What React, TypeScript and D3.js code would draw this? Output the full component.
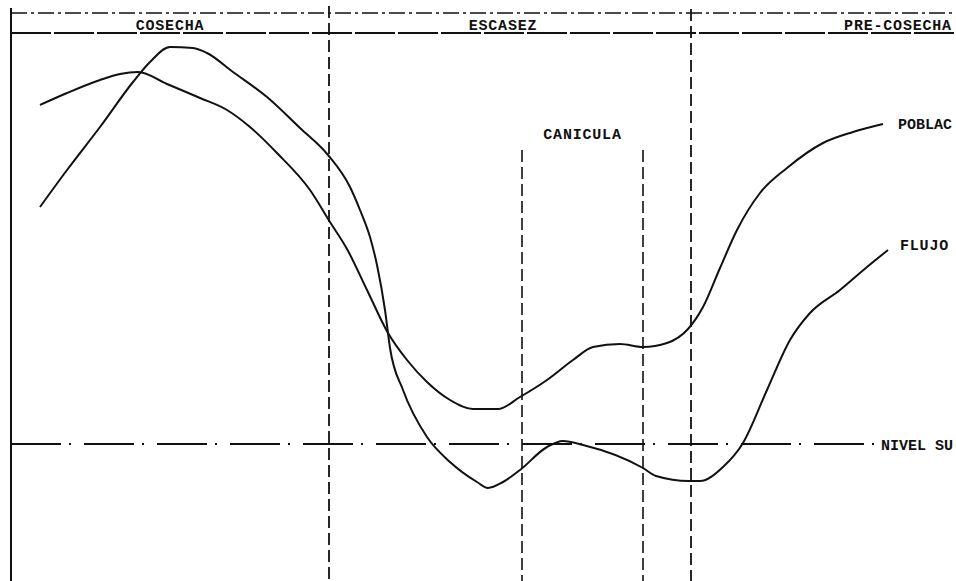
import React from "react";
import * as d3 from "d3";

// x in abstract time units (0..95.6), y in abstract level units (0..58.1)
const poblacionX = [4.0, 6.7, 10.0, 12.0, 13.8, 16.7, 20.0, 22.7, 25.0, 27.7, 31.0, 33.0, 34.7, 36.7, 38.8, 40.7, 42.7, 45.0, 47.3, 49.8, 52.0, 54.7, 57.3, 59.3, 62.0, 64.3, 66.7, 68.8, 70.3, 72.0, 73.7, 76.0, 78.7, 82.3, 85.3, 88.3];
const poblacionY = [47.6, 48.8, 50.1, 50.7, 50.9, 49.7, 48.3, 47.1, 45.4, 42.8, 39.1, 35.9, 33.2, 29.1, 24.8, 22.1, 19.9, 18.1, 17.2, 17.2, 18.4, 20.1, 22.1, 23.4, 23.7, 23.4, 23.8, 25.2, 27.4, 31.3, 35.1, 38.8, 41.3, 43.8, 44.9, 45.7];

const flujoX = [4.0, 6.7, 10.0, 13.3, 15.0, 17.0, 19.3, 20.7, 23.3, 26.7, 30.0, 32.8, 35.0, 36.0, 37.0, 37.7, 38.5, 39.0, 40.3, 42.7, 45.0, 47.7, 48.8, 50.3, 52.0, 54.7, 56.3, 58.3, 64.3, 65.6, 68.9, 70.0, 72.3, 74.3, 76.7, 79.0, 81.0, 84.0, 86.7, 88.8];
const flujoY = [37.4, 41.1, 45.4, 49.9, 51.9, 53.4, 53.3, 52.8, 50.9, 48.4, 45.3, 42.6, 39.4, 37.1, 34.4, 31.6, 27.1, 23.3, 19.1, 14.4, 11.9, 9.9, 9.3, 9.9, 11.1, 13.4, 14.0, 13.6, 11.3, 10.5, 10.0, 10.0, 11.4, 13.8, 19.1, 24.1, 26.8, 29.1, 31.4, 33.1];

const nivelSubsistencia = 13.7;
const periodBoundaries = [32.9, 69.1];
const caniculaBounds = [52.2, 64.3];
const caniculaTop = 43.1;
const headerTop = 56.8;
const headerBottom = 54.8;
const leftEdge = 1.1;

const headerLabels = ["COSECHA", "ESCASEZ", "PRE-COSECHA"];
const headerLabelX = [17.0, 50.3, 89.8];

const seriesLabels = ["POBLAC", "FLUJO"];
const seriesLabelY = [45.6, 33.1];
const nivelLabel = "NIVEL SU";

const W = 956;
const H = 581;

export default function App() {
  const x = d3.scaleLinear().domain([0, 95.6]).range([0, W]);
  const y = d3.scaleLinear().domain([0, 58.1]).range([H, 0]);

  const line = d3
    .line<[number, number]>()
    .x((d) => x(d[0]))
    .y((d) => y(d[1]))
    .curve(d3.curveMonotoneX);

  const pob: [number, number][] = poblacionX.map((v, i) => [v, poblacionY[i]]);
  const flu: [number, number][] = flujoX.map((v, i) => [v, flujoY[i]]);

  const font = {
    fontFamily: "'Liberation Mono', 'DejaVu Sans Mono', monospace",
    fontSize: 15,
    fontWeight: 700 as const,
    letterSpacing: 0.8,
    fill: "#111",
  };

  const lastPob = pob[pob.length - 1];
  const lastFlu = flu[flu.length - 1];

  return (
    <svg
      width={W}
      height={H}
      style={{ position: "absolute", left: 0, top: 0, background: "#fff" }}
    >
      <rect width={W} height={H} fill="#fff" />
      {/* left border */}
      <line x1={x(leftEdge)} x2={x(leftEdge)} y1={8} y2={H} stroke="#111" strokeWidth={2} />
      {/* header lines */}
      <line x1={x(leftEdge)} x2={W} y1={y(headerTop)} y2={y(headerTop)} stroke="#111" strokeWidth={1.6} strokeDasharray="16,4,3,4" />
      <line x1={x(leftEdge)} x2={W} y1={y(headerBottom)} y2={y(headerBottom)} stroke="#111" strokeWidth={1.8} strokeDasharray="40,3" />
      {headerLabels.map((t, i) => (
        <text key={t} x={x(headerLabelX[i])} y={y(headerBottom) - 3} textAnchor="middle" {...font}>
          {t}
        </text>
      ))}
      {/* period boundaries */}
      {periodBoundaries.map((b, i) => (
        <line key={i} x1={x(b)} x2={x(b)} y1={i === 0 ? 6 : 9} y2={H} stroke="#111" strokeWidth={1.8} strokeDasharray="12,5" />
      ))}
      {/* canicula */}
      {caniculaBounds.map((b, i) => (
        <line key={i} x1={x(b)} x2={x(b)} y1={y(caniculaTop)} y2={H} stroke="#111" strokeWidth={1.6} strokeDasharray="12,5" />
      ))}
      <text x={x((caniculaBounds[0] + caniculaBounds[1]) / 2)} y={y(caniculaTop) - 11} textAnchor="middle" {...font}>
        CANICULA
      </text>
      {/* nivel de subsistencia */}
      <line x1={x(leftEdge)} x2={876} y1={y(nivelSubsistencia)} y2={y(nivelSubsistencia)} stroke="#111" strokeWidth={1.8} strokeDasharray="50,8,2,13" />
      <text x={881} y={y(nivelSubsistencia) + 6} {...font} letterSpacing={0}>
        {nivelLabel}
      </text>
      {/* curves */}
      <path d={line(pob) || ""} fill="none" stroke="#111" strokeWidth={2} />
      <path d={line(flu) || ""} fill="none" stroke="#111" strokeWidth={2} />
      <text x={x(lastPob[0]) + 15} y={y(seriesLabelY[0]) + 4} {...font} letterSpacing={0}>
        {seriesLabels[0]}
      </text>
      <text x={x(lastFlu[0]) + 12} y={y(seriesLabelY[1])} {...font}>
        {seriesLabels[1]}
      </text>
    </svg>
  );
}
